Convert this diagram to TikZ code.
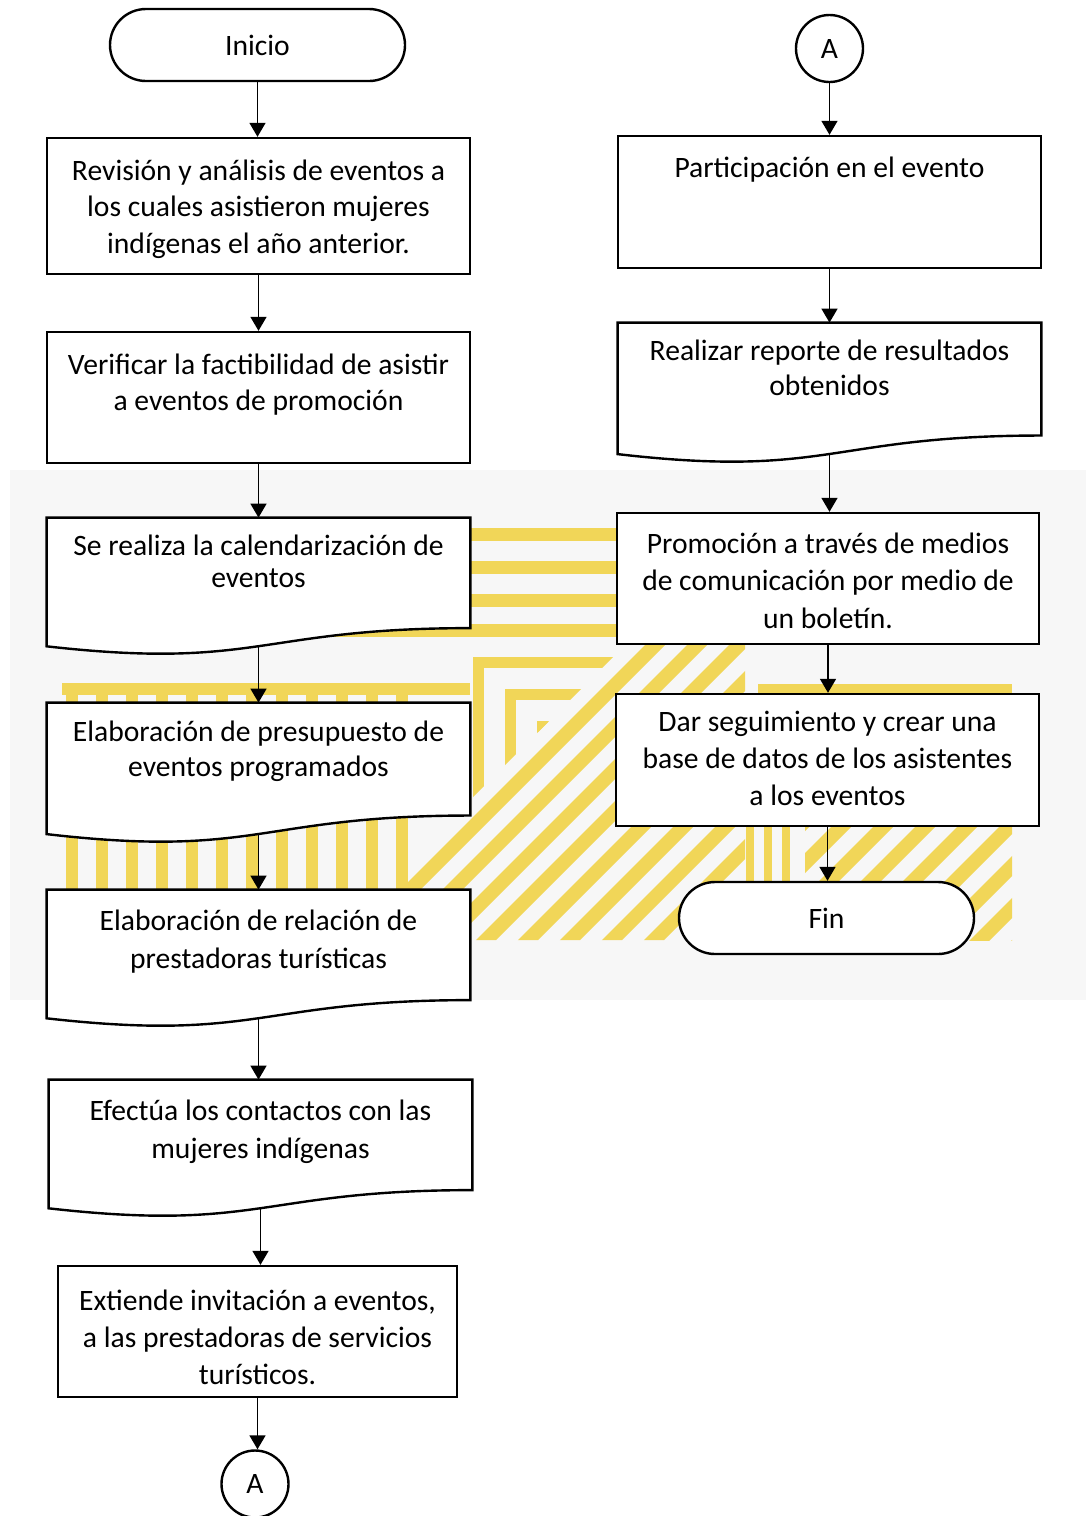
\documentclass[tikz,border=0pt]{standalone}
\usepackage{fontspec}
\setmainfont{Carlito}
\usetikzlibrary{arrows.meta,shapes.misc,calc}
\pgfdeclarelayer{wm}
\pgfdeclarelayer{shp}
\pgfsetlayers{wm,shp,main}
\definecolor{wmy}{RGB}{241,214,88}
\newcommand\bt[5]{\parbox[c][#1][t]{#2}{\centering\fontsize{14.8pt}{#3}\selectfont\vspace*{\dimexpr#4-12pt\relax}\rule{0pt}{12pt}#5\par}}
\tikzset{
  proc/.style={draw=black, line width=1.2pt, fill=white, inner sep=0pt},
  docn/.style={inner sep=0pt},
  term/.style={rounded rectangle, draw=black, line width=1.2pt, fill=white, minimum width=147.5pt, minimum height=36pt, inner sep=0pt, font=\fontsize{14.8pt}{17pt}\selectfont},
  conn/.style={circle, draw=black, line width=1.2pt, fill=white, minimum size=33.5pt, inner sep=0pt, font=\fontsize{14.8pt}{17pt}\selectfont},
  arr/.style={-{Triangle[length=7pt,width=8pt]}, line width=0.8pt},
  docline/.style={draw=black, line width=1.2pt, fill=white, line join=miter},
  wmf/.style={fill=wmy}
}
\newcommand\docout[1]{%
  \begin{pgfonlayer}{shp}
  \path[docline] (#1.north west) -- (#1.north east) -- ($(#1.north east)!0.802!(#1.south east)$) .. controls ($(#1.north)!0.802!(#1.south)$) and ($(#1.north)!1.108!(#1.south)$) .. ($(#1.north west)!0.934!(#1.south west)$) -- cycle;
  \end{pgfonlayer}
  \coordinate (#1-b) at ($(#1.north)!0.933!(#1.south)$);}
\begin{document}
\begin{tikzpicture}[x=0.5pt,y=-0.5pt]
\useasboundingbox (0,0) rectangle (1086,1516);
\begin{pgfonlayer}{wm}
  \fill[white] (0,0) rectangle (1086,1516);
  \fill[black!3] (10,470) rectangle (1086,1000);
  % top horizontal stripes
  \foreach \y in {528,561,594} \fill[wmf] (320,\y) rectangle (640,\y+13);
  \fill[wmf] (320,624) rectangle (640,637);
  % nested frames (upper-left triangle)
  \begin{scope}
    \clip (320,624) -- (646,624) -- (320,950) -- cycle;
    \foreach \k in {1,2,3} {
      \fill[wmf] (441+32*\k,625+32*\k) rectangle (700,636+32*\k);
      \fill[wmf] (441+32*\k,625+32*\k) rectangle (452+32*\k,1000);
    }
  \end{scope}
  % diagonal stripes, middle tile
  \begin{scope}
    \clip (645,637) -- (745,637) -- (745,940) -- (342,940) -- cycle;
    \foreach \c in {1290,1332,...,2000}
      \fill[wmf] (\c-1000,1000) -- (\c-980,1000) -- (\c-380,400) -- (\c-400,400) -- cycle;
  \end{scope}
  % vertical stripes between tiles
  \foreach \x in {746,764,782} \fill[wmf] (\x,695) rectangle (\x+8,940);
  % right tile
  \fill[wmf] (758,684) rectangle (1012,695);
  \begin{scope}
    \clip (805,695) rectangle (1012,940);
    \foreach \c in {1490,1532,...,2200}
      \fill[wmf] (\c-1000,1000) -- (\c-980,1000) -- (\c-380,400) -- (\c-400,400) -- cycle;
  \end{scope}
  % left tile
  \fill[wmf] (62,683) rectangle (470,695);
  \foreach \x in {66,96,...,396} \fill[wmf] (\x,695) rectangle (\x+12,940);
\end{pgfonlayer}

% left column
\node[term] (ini) at (257.5,45) {Inicio};
\node[proc] (b1) at (258.5,206) {\bt{68pt}{211.5pt}{18.25pt}{21pt}{Revisión y análisis de eventos a\\ los cuales asistieron mujeres\\ indígenas el año anterior.}};
\node[proc] (b2) at (258.5,397.5) {\bt{65.5pt}{211.5pt}{18pt}{21pt}{Verificar la factibilidad de asistir\\ a eventos de promoción}};
\node[docn] (b3) at (258.5,586.5) {\bt{68.5pt}{211.5pt}{16pt}{18.5pt}{Se realiza la calendarización de\\ eventos}};
\node[docn] (b4) at (258.5,773) {\bt{70pt}{211.5pt}{17.5pt}{19pt}{Elaboración de presupuesto de\\ eventos programados}};
\node[docn] (b5) at (258.5,958.5) {\bt{68.5pt}{211.5pt}{19pt}{20pt}{Elaboración de relación de\\ prestadoras turísticas}};
\node[docn] (b6) at (260.5,1148.5) {\bt{68.5pt}{211.5pt}{19pt}{20pt}{Efectúa los contactos con las\\ mujeres indígenas}};
\node[proc] (b7) at (257.5,1331.5) {\bt{65.5pt}{199.5pt}{18.5pt}{22pt}{Extiende invitación a eventos,\\ a las prestadoras de servicios\\ turísticos.}};
\node[conn] (ab) at (255,1484) {A};

% right column
\node[conn] (at) at (829.5,48.5) {A};
\node[proc] (r1) at (829.5,202) {\bt{66pt}{211.5pt}{18pt}{20.5pt}{Participación en el evento}};
\node[docn] (r2) at (829.5,393) {\bt{70pt}{211.5pt}{17.5pt}{18.5pt}{Realizar reporte de resultados\\ obtenidos}};
\node[proc] (r3) at (828,578.5) {\bt{65.5pt}{211pt}{18.75pt}{20pt}{Promoción a través de medios\\ de comunicación por medio de\\ un boletín.}};
\node[proc] (r4) at (827.5,760) {\bt{66pt}{211.5pt}{18.5pt}{18.5pt}{Dar seguimiento y crear una\\ base de datos de los asistentes\\ a los eventos}};
\node[term] (fin) at (826.5,918) {Fin};

\docout{b3}
\docout{b4}
\docout{b5}
\docout{b6}
\docout{r2}

% connectors
\draw[arr] (ini.south) -- (ini.south |- b1.north);
\draw[arr] (b1.south) -- (b1.south |- b2.north);
\draw[arr] (b2.south) -- (b2.south |- b3.north);
\draw[arr] (b3-b) -- (b3-b |- b4.north);
\draw[arr] (b4-b) -- (b4-b |- b5.north);
\draw[arr] (b5-b) -- (b5-b |- b6.north);
\draw[arr] (b6-b) -- (b6-b |- b7.north);
\draw[arr] (b7.south) -- (b7.south |- ab.north);
\draw[arr] (at.south) -- (at.south |- r1.north);
\draw[arr] (r1.south) -- (r1.south |- r2.north);
\draw[arr] (r2-b) -- (r2-b |- r3.north);
\draw[arr] (r3.south) -- (r3.south |- r4.north);
\draw[arr] (r4.south) -- (r4.south |- fin.north);
\end{tikzpicture}
\end{document}
